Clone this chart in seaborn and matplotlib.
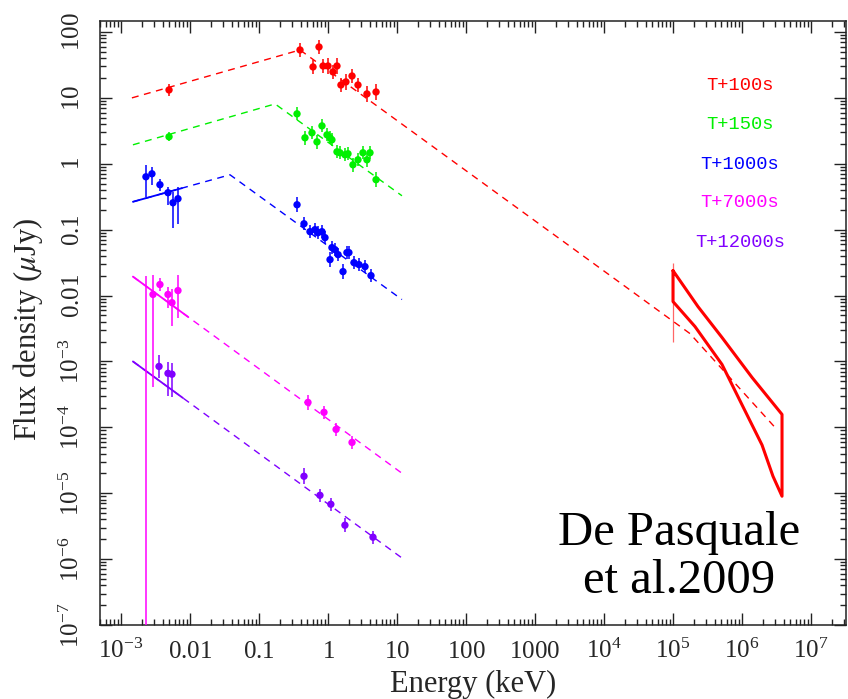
"""
Broadband SED of the afterglow at five epochs (De Pasquale et al. 2009).
"""
import numpy as np
import pandas as pd
import matplotlib
matplotlib.use('Agg')
import matplotlib.pyplot as plt
import matplotlib.transforms as mtransforms
import seaborn as sns
from matplotlib.ticker import FixedLocator, LogLocator, NullFormatter

# ---- data: energy in keV, flux density in micro-Jy, errors in decades ----
red_E = [0.00497, 0.393, 0.741, 0.607, 0.848, 1.00, 1.18, 1.35, 1.54, 1.82, 2.23, 2.72, 3.67, 4.97]
red_F = [13.2, 53.4, 59.3, 29.5, 30.5, 30.5, 24.8, 30.5, 15.7, 17.5, 21.5, 15.7, 11.5, 12.3]
red_lo = [0.09, 0.11, 0.11, 0.11, 0.11, 0.12, 0.11, 0.12, 0.11, 0.12, 0.11, 0.11, 0.12, 0.12]
red_hi = [0.09, 0.11, 0.11, 0.11, 0.11, 0.12, 0.11, 0.12, 0.11, 0.12, 0.11, 0.11, 0.12, 0.12]
red_model_E = [1.44e-3, 0.393, 1.76e5, 3.0e6]
red_model_F = [10.0, 53.4, 2.65e-3, 1.0e-4]

green_E = [0.00497, 0.356, 0.464, 0.586, 0.693, 0.818, 0.968, 1.07, 1.14, 1.35,
           1.49, 1.76, 1.95, 2.30, 2.72, 3.21, 3.67, 4.06, 4.97]
green_F = [2.57, 5.73, 2.48, 2.95, 2.15, 3.76, 2.75, 2.48, 2.31, 1.52,
           1.47, 1.37, 1.42, 0.966, 1.15, 1.47, 1.15, 1.47, 0.573]
green_lo = [0.07, 0.10, 0.11, 0.10, 0.11, 0.10, 0.10, 0.10, 0.10, 0.10,
            0.10, 0.10, 0.10, 0.11, 0.10, 0.10, 0.11, 0.10, 0.11]
green_hi = [0.07, 0.10, 0.11, 0.10, 0.11, 0.10, 0.10, 0.10, 0.10, 0.10,
            0.10, 0.10, 0.10, 0.11, 0.10, 0.10, 0.11, 0.10, 0.11]
green_model_E = [1.49e-3, 0.171, 11.8]
green_model_F = [1.94, 8.1, 0.327]

blue_E = [2.30e-3, 2.81e-3, 3.67e-3, 4.80e-3, 5.67e-3, 6.70e-3, 0.356, 0.449, 0.548, 0.648,
          0.716, 0.818, 0.905, 1.07, 1.14, 1.26, 1.40, 1.65, 1.88, 2.01, 2.38, 2.81, 3.44, 4.20]
blue_F = [0.635, 0.705, 0.481, 0.364, 0.256, 0.295, 0.239, 0.123, 0.0933, 0.100,
          0.090, 0.0933, 0.0757, 0.0351, 0.0534, 0.0498, 0.0418, 0.0231, 0.0449, 0.0449,
          0.0316, 0.0295, 0.0275, 0.0201]
blue_lo = [0.30, 0.17, 0.09, 0.18, 0.39, 0.38, 0.11, 0.10, 0.10, 0.10,
           0.10, 0.10, 0.10, 0.11, 0.10, 0.10, 0.10, 0.11, 0.10, 0.10, 0.10, 0.10, 0.10, 0.10]
blue_hi = [0.18, 0.11, 0.09, 0.09, 0.17, 0.18, 0.11, 0.10, 0.10, 0.10,
           0.10, 0.10, 0.10, 0.11, 0.10, 0.10, 0.10, 0.11, 0.10, 0.10, 0.10, 0.10, 0.10, 0.10]
blue_model_E = [1.49e-3, 0.038, 11.8]
blue_model_F = [0.265, 0.681, 8.7e-3]
blue_solid_to = 7.66e-3

mag_E = [2.91e-3, 3.67e-3, 4.80e-3, 5.48e-3, 6.70e-3, 0.513, 0.875, 1.31, 2.23]
mag_F = [0.0104, 0.0147, 0.0104, 7.8e-3, 0.0119, 2.39e-4, 1.69e-4, 9.3e-5, 5.9e-5]
mag_lo = [1.41, 0.10, 0.20, 0.36, 0.41, 0.11, 0.10, 0.10, 0.10]
mag_hi = [0.29, 0.10, 0.12, 0.21, 0.23, 0.11, 0.10, 0.10, 0.10]
mag_model_E = [1.49e-3, 11.8]
mag_model_F = [0.0194, 2.01e-5]
mag_solid_to = 9.35e-3
mag_upper_E = 2.30e-3       # point with a very long error bar
mag_upper_top = 0.020

pur_E = [3.56e-3, 4.80e-3, 5.48e-3, 0.449, 0.765, 1.10, 1.76, 4.49]
pur_F = [8.4e-4, 6.6e-4, 6.4e-4, 1.81e-5, 9.3e-6, 6.8e-6, 3.27e-6, 2.15e-6]
pur_lo = [0.18, 0.35, 0.35, 0.12, 0.10, 0.10, 0.11, 0.10]
pur_hi = [0.17, 0.17, 0.17, 0.12, 0.10, 0.10, 0.11, 0.10]
pur_model_E = [1.49e-3, 11.8]
pur_model_F = [1.0e-3, 1.04e-6]
pur_solid_to = 7.9e-3

# LAT butterfly (T+100s) and its flux bar
bfly_upper_E = [1.0e5, 2.30e5, 5.13e5, 1.40e6, 3.80e6]
bfly_upper_F = [0.0239, 6.8e-3, 2.31e-3, 5.7e-4, 1.57e-4]
bfly_lower_E = [1.0e5, 2.08e5, 5.13e5, 1.0e6, 1.95e6, 2.81e6, 3.80e6]
bfly_lower_F = [8.1e-3, 3.39e-3, 9.0e-4, 2.2e-4, 5.4e-5, 1.81e-5, 9.0e-6]
lat_E = 1.0e5
lat_F_range = [2.0e-3, 0.0316]

x_bin = 0.045   # half width of energy bins, decades

epochs = ['T+100s', 'T+150s', 'T+1000s', 'T+7000s', 'T+12000s']
colors = ['#ff0000', '#00f000', '#0000ff', '#ff00ff', '#8000ff']

x_ticks = [1e-3, 1e-2, 1e-1, 1, 10, 100, 1000, 1e4, 1e5, 1e6, 1e7]
x_ticklabels = ['10^{-3}', '0.01', '0.1', '1', '10', '100', '1000',
                '10^4', '10^5', '10^6', '10^7']
y_ticks = [1e-7, 1e-6, 1e-5, 1e-4, 1e-3, 1e-2, 1e-1, 1, 10, 100]
y_ticklabels = ['10^{-7}', '10^{-6}', '10^{-5}', '10^{-4}', '10^{-3}',
                '0.01', '0.1', '1', '10', '100']


sns.set_theme(style='ticks')
plt.rcParams['font.family'] = ['Liberation Serif', 'DejaVu Serif']
plt.rcParams['mathtext.fontset'] = 'stix'

fig = plt.figure(figsize=(8.48, 6.99), dpi=100)
ax = fig.add_axes([100 / 848, 74 / 699, 746 / 848, 604 / 699])
ax.set_xscale('log')
ax.set_yscale('log')


def draw_points(E, F, lo, hi, color):
    E = np.asarray(E)
    F = np.asarray(F)
    yerr = [F - F * 10 ** -np.asarray(lo), F * 10 ** np.asarray(hi) - F]
    xerr = [E - E * 10 ** -x_bin, E * 10 ** x_bin - E]
    ax.errorbar(E, F, yerr=yerr, xerr=xerr, fmt='none', ecolor=color,
                elinewidth=1.1, capsize=0, zorder=3)
    df = pd.DataFrame({'E': E, 'F': F})
    sns.scatterplot(data=df, x='E', y='F', ax=ax, color=color, s=28,
                    edgecolor='none', marker='o', zorder=4, legend=False)


def draw_model(E, F, color, solid_to=None):
    sns.lineplot(x=E, y=F, ax=ax, color=color, lw=1.0, sort=False,
                 estimator=None, zorder=2)
    ax.lines[-1].set_dashes((5, 4))
    if solid_to is not None:
        # solid part over the UVOT range, same power law
        lx = np.log10(E[:2])
        ly = np.log10(F[:2])
        y_end = ly[0] + (ly[1] - ly[0]) * (np.log10(solid_to) - lx[0]) / (lx[1] - lx[0])
        sns.lineplot(x=[E[0], solid_to], y=[F[0], 10 ** y_end], ax=ax,
                     color=color, lw=1.3, sort=False, estimator=None, zorder=2)


draw_model(red_model_E, red_model_F, colors[0])
draw_model(green_model_E, green_model_F, colors[1])
draw_model(blue_model_E, blue_model_F, colors[2], blue_solid_to)
draw_model(mag_model_E, mag_model_F, colors[3], mag_solid_to)
draw_model(pur_model_E, pur_model_F, colors[4], pur_solid_to)

draw_points(red_E, red_F, red_lo, red_hi, colors[0])
draw_points(green_E, green_F, green_lo, green_hi, colors[1])
draw_points(blue_E, blue_F, blue_lo, blue_hi, colors[2])
draw_points(mag_E, mag_F, mag_lo, mag_hi, colors[3])
draw_points(pur_E, pur_F, pur_lo, pur_hi, colors[4])

ax.vlines(mag_upper_E, 1e-9, mag_upper_top, color=colors[3], lw=1.1, zorder=3)

# butterfly
bx = bfly_upper_E + bfly_lower_E[::-1] + [bfly_upper_E[0]]
by = bfly_upper_F + bfly_lower_F[::-1] + [bfly_upper_F[0]]
ax.plot(bx, by, color=colors[0], lw=2.2, zorder=3, solid_joinstyle='round')
ax.vlines(lat_E, lat_F_range[0], lat_F_range[1], color=colors[0], lw=0.9,
          alpha=0.6, zorder=3)

ax.set_xlim(10 ** -3.304, 10 ** 7.507)
ax.set_ylim(1e-7, 10 ** 2.167)

ax.xaxis.set_major_locator(FixedLocator(x_ticks))
ax.yaxis.set_major_locator(FixedLocator(y_ticks))
ax.set_xticklabels([f'$\\mathregular{{{t}}}$' for t in x_ticklabels])
ax.yaxis.set_major_formatter(NullFormatter())
for axis in (ax.xaxis, ax.yaxis):
    axis.set_minor_locator(LogLocator(base=10, subs=np.arange(2, 10), numticks=40))
    axis.set_minor_formatter(NullFormatter())

ax.tick_params(which='both', direction='in', top=True, right=True,
               color='#222222', width=1.0)
ax.tick_params(which='major', length=8.5)
ax.tick_params(which='minor', length=4.5)
ax.tick_params(axis='x', which='major', pad=23.5, labelsize=18)

# rotated y tick labels, written next to the left spine
ylab_tr = mtransforms.blended_transform_factory(ax.transAxes, ax.transData)
for val, lab in zip(y_ticks, y_ticklabels):
    ax.text(-0.022, val, f'$\\mathregular{{{lab}}}$', transform=ylab_tr,
            rotation=90, ha='right', va='center', fontsize=18, clip_on=False)

for sp in ax.spines.values():
    sp.set_linewidth(1.1)
    sp.set_color('#222222')

ax.set_xlabel('Energy (keV)', fontsize=22)
ax.xaxis.set_label_coords(0.5, -0.074)
ax.set_ylabel(r'Flux density ($\mu$Jy)', fontsize=22)
ax.yaxis.set_label_coords(-0.074, 0.49)

legend_y = [0.894, 0.828, 0.763, 0.699, 0.634]
for name, c, yy in zip(epochs, colors, legend_y):
    ax.text(0.858, yy, name, transform=ax.transAxes, ha='center', va='center',
            family='Liberation Mono', fontsize=13.5, color=c)

fig.text(679 / 848, 1 - 557 / 699, 'De Pasquale\net al.2009', ha='center',
         va='center', fontsize=35, family='Liberation Serif', linespacing=1.1,
         color='black')

# make sure every tick exists before fixing label alignment
fig.canvas.draw()
plt.setp(ax.get_xticklabels(), va='baseline')

fig.savefig('out.png', dpi=100)
plt.close(fig)
